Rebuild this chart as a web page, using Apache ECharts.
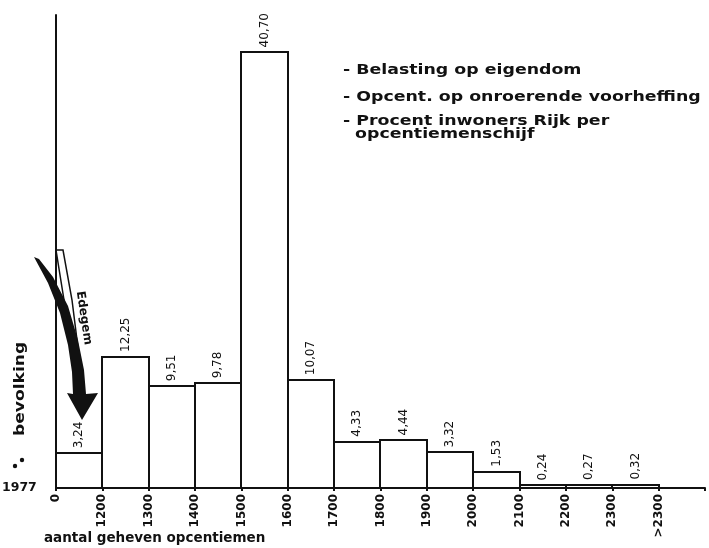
<!DOCTYPE html>
<html>
<head>
<meta charset="utf-8">
<script src="https://cdn.jsdelivr.net/npm/echarts@6/dist/echarts.min.js"></script>
<style>
  html, body { margin: 0; padding: 0; background: #fff; }
  #main { width: 709px; height: 548px; }
</style>
</head>
<body>
<div id="main"></div>
<script>
// opcentiemenschijven (bins), last slot left empty so the axis runs on
const categories = ['0-1200', '1200-1300', '1300-1400', '1400-1500', '1500-1600', '1600-1700',
  '1700-1800', '1800-1900', '1900-2000', '2000-2100', '2100-2200', '2200-2300', '>2300', '']
// procent inwoners Rijk per opcentiemenschijf
const percentages = [3.24, 12.25, 9.51, 9.78, 40.70, 10.07, 4.33, 4.44, 3.32, 1.53, 0.24, 0.27, 0.32, null]
// labels at the bin edges
const tickLabels = ['0', '1200', '1300', '1400', '1500', '1600', '1700', '1800', '1900', '2000',
  '2100', '2200', '2300', '>2300']
const legendLines = [
  '- Belasting op eigendom',
  '- Opcent. op onroerende voorheffing',
  '- Procent inwoners Rijk per',
  '  opcentiemenschijf'
]

const font = 'DejaVu Sans'
var myChart = echarts.init(document.getElementById('main'))

// histogram bars: adjacent boxes share their edges
const renderBar = (params, api) => {
  const v = api.value(1)
  if (v == null || isNaN(v)) return
  const top = api.coord([api.value(0), v])
  const base = api.coord([api.value(0), 0])
  const w = api.size([1, 0])[0]
  const x1 = Math.round(top[0] - w / 2)
  const x2 = Math.round(top[0] + w / 2)
  return {
    type: 'group',
    children: [
      {
        type: 'rect',
        shape: { x: x1, y: Math.round(top[1]), width: x2 - x1, height: Math.round(base[1]) - Math.round(top[1]) },
        style: { fill: '#fff', stroke: '#111', lineWidth: 2 }
      },
      {
        type: 'text',
        x: top[0],
        y: top[1] - 5,
        rotation: Math.PI / 2,
        style: {
          text: v.toFixed(2).replace('.', ','),
          fill: '#111',
          font: '12px "DejaVu Sans"',
          align: 'left',
          verticalAlign: 'middle'
        }
      }
    ]
  }
}

myChart.setOption({
  animation: false,
  backgroundColor: '#fff',
  grid: { left: 56, right: 4, top: 15, bottom: 60, containLabel: false },
  xAxis: [
    {
      type: 'category',
      data: categories,
      boundaryGap: true,
      axisLine: { lineStyle: { color: '#111', width: 2 } },
      axisTick: { show: false },
      axisLabel: { show: false }
    },
    {
      type: 'value',
      position: 'bottom',
      min: 0,
      max: categories.length,
      interval: 1,
      axisLine: { show: false },
      axisTick: { show: true, length: 3, lineStyle: { color: '#111', width: 2 } },
      splitLine: { show: false },
      axisLabel: {
        rotate: 90,
        margin: 6,
        color: '#111',
        fontFamily: font,
        fontWeight: 'bold',
        fontSize: 12,
        formatter: v => tickLabels[v] || ''
      }
    }
  ],
  yAxis: {
    type: 'value',
    min: 0,
    max: 44.2,
    axisLine: { show: true, lineStyle: { color: '#111', width: 2 } },
    axisTick: { show: false },
    axisLabel: { show: false },
    splitLine: { show: false }
  },
  series: [
    {
      type: 'custom',
      xAxisIndex: 0,
      renderItem: renderBar,
      data: percentages.map((v, i) => [i, v]),
      z: 2
    }
  ],
  graphic: [
    // legend block
    ...legendLines.map((t, i) => ({
      type: 'text',
      x: 343,
      y: [70, 97, 121, 134][i],
      scaleX: 1.24,
      style: { text: t, fill: '#111', font: 'bold 14px "DejaVu Sans"', verticalAlign: 'middle' }
    })),
    // x axis title
    {
      type: 'text', left: 44, top: 531,
      style: { text: 'aantal geheven opcentiemen', fill: '#111', font: 'bold 13.5px "DejaVu Sans"' }
    },
    // y side notes
    {
      type: 'text', left: 2, top: 481,
      style: { text: '1977', fill: '#111', font: 'bold 12.5px "DejaVu Sans"' }
    },
    {
      type: 'text', x: 20, y: 436, rotation: Math.PI / 2, scaleX: 1.22,
      style: { text: 'bevolking', fill: '#111', font: 'bold 14px "DejaVu Sans"', align: 'left', verticalAlign: 'middle' }
    },
    { type: 'circle', shape: { cx: 15, cy: 466, r: 2.2 }, style: { fill: '#111' } },
    { type: 'circle', shape: { cx: 22, cy: 460, r: 2.2 }, style: { fill: '#111' } },
    // white outlined arrow behind
    {
      type: 'polygon',
      shape: { points: [[56, 250], [63, 250], [72, 300], [82, 380], [77, 380], [64, 300]] },
      style: { fill: '#fff', stroke: '#111', lineWidth: 1.5 }
    },
    // black curved arrow pointing at Edegem's bin
    {
      type: 'polygon',
      shape: {
        points: [[34, 257], [48, 283], [60, 313], [68, 345], [72, 372], [73, 394],
          [67, 393], [82, 420], [98, 393], [86, 394], [84, 370], [78, 340],
          [68, 306], [53, 277], [39, 259]]
      },
      style: { fill: '#111' }
    },
    {
      type: 'text', x: 84, y: 318, rotation: -Math.PI / 2 + 0.15,
      style: { text: 'Edegem', fill: '#111', font: 'bold 12px "DejaVu Sans"', align: 'center', verticalAlign: 'middle' }
    }
  ]
})
</script>
</body>
</html>
